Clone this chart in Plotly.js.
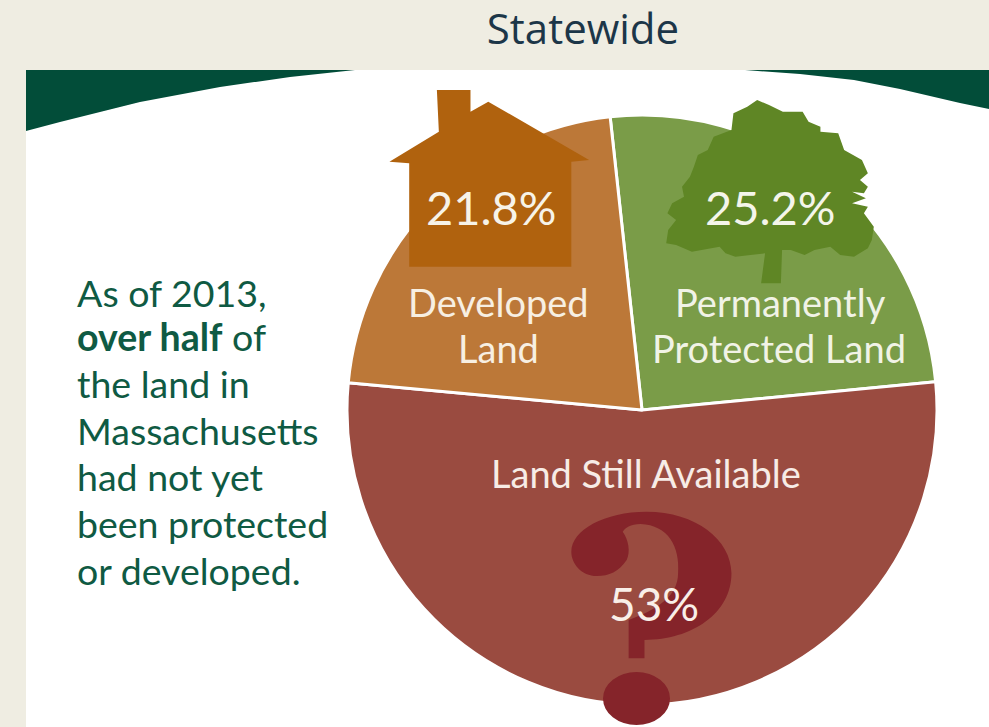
<!DOCTYPE html>
<html>
<head>
<meta charset="utf-8">
<script src="https://cdn.plot.ly/plotly-3.0.1.min.js"></script>
<style>html,body{margin:0;padding:0;background:#efede2;overflow:hidden}</style>
</head>
<body>
<div id="chart" style="width:989px;height:727px"></div>
<script>
const categories = ["Permanently<br>Protected Land", "Land Still Available", "Developed<br>Land"];
const values = [25.2, 53, 21.8];
const sliceColors = ["#7a9c48", "#9a4b40", "#bc7838"];
const noteLines = ["As of 2013,", "<b>over half</b> of", "the land in", "Massachusetts", "had not yet", "been protected", "or developed."];

const W = 989, H = 727;
const px = x => x / W;
const py = y => 1 - y / H;
const pt = p => px(p[0]).toFixed(5) + "," + py(p[1]).toFixed(5);
const poly = pts => "M" + pts.map(pt).join("L") + "Z";
const zoomed = pts => pts.map(p => [340 + p[0] / 2.529, 70 + p[1] / 3]);
const zoomedLow = p => [340 + p[0] / 2.529, 440 + p[1] / 3];
const zl = p => pt(zoomedLow(p));

const housePts = zoomed([[245,60],[330,60],[330,125],[375,95],[630,270],[585,275],[585,590],[175,590],[175,280],[125,275],[250,185]]);
const treePts = zoomed([[1065,640],[1075,550],[1000,560],[975,550],[960,530],[890,545],[850,525],[825,520],[830,480],[850,450],[828,430],[840,400],[870,380],[865,350],[885,320],[895,290],[905,255],[930,240],[945,200],[990,180],[995,130],[1030,110],[1055,90],[1085,105],[1120,125],[1170,125],[1185,155],[1215,170],[1215,185],[1260,190],[1275,240],[1320,270],[1335,310],[1315,330],[1335,350],[1325,370],[1295,365],[1330,385],[1295,400],[1335,410],[1325,430],[1350,470],[1345,510],[1335,535],[1300,560],[1265,555],[1240,530],[1200,540],[1175,555],[1140,540],[1118,540],[1115,640]]);

const curve = (a, b, c) => "C" + zl(a) + " " + zl(b) + " " + zl(c);
const questionPath = "M" + zl([730,540]) +
  curve([800,510],[855,470],[855,400]) +
  curve([860,320],[830,255],[760,252]) +
  curve([735,252],[720,265],[715,275]) +
  curve([730,300],[735,335],[725,360]) +
  curve([705,395],[680,408],[650,408]) +
  curve([610,408],[585,370],[585,335]) +
  curve([585,270],[670,215],[775,215]) +
  curve([900,215],[990,300],[990,400]) +
  curve([990,520],[890,600],[770,600]) +
  "L" + zl([770,655]) + "L" + zl([730,655]) + "Z";

const shapeBase = {xref:"paper", yref:"paper", line:{width:0}};
const shapes = [
  Object.assign({}, shapeBase, {type:"rect", layer:"below", x0:px(26), x1:1, y0:0, y1:py(70), fillcolor:"#ffffff"}),
  Object.assign({}, shapeBase, {type:"path", layer:"below", path:poly([[26,70],[355,70],[290,77],[220,87],[140,102],[100,112],[60,122],[26,131]]), fillcolor:"#024d39"}),
  Object.assign({}, shapeBase, {type:"path", layer:"below", path:poly([[745,70],[989,70],[989,109],[960,103],[900,89],[854,80],[800,74]]), fillcolor:"#024d39"}),
  Object.assign({}, shapeBase, {type:"path", layer:"above", path:poly(housePts), fillcolor:"#b0620e"}),
  Object.assign({}, shapeBase, {type:"path", layer:"above", path:poly(treePts), fillcolor:"#5f8625"}),
  Object.assign({}, shapeBase, {type:"path", layer:"above", path:questionPath, fillcolor:"#85242a"}),
  Object.assign({}, shapeBase, {type:"circle", layer:"above", x0:px(603), x1:px(670), y0:py(725), y1:py(672), fillcolor:"#85242a"})
];

const label = (text, x, y, size, color, extra) => Object.assign({
  text, x:px(x), y:py(y), xref:"paper", yref:"paper", showarrow:false,
  xanchor:"center", yanchor:"middle", align:"center",
  font:{family:"Lato, sans-serif", size, color}
}, extra || {});

const annotations = [
  label(values[2] + "%", 491, 207, 47, "#f7f3e8"),
  label(values[0] + "%", 770, 207, 47, "#f4f5ea"),
  label(values[1] + "%", 654, 603, 46, "#f9efe8"),
  label(categories[2].split("<br>")[0], 499, 302, 38, "#f7efe2"),
  label(categories[2].split("<br>")[1], 498, 348, 38, "#f7efe2"),
  label(categories[0].split("<br>")[0], 780, 302, 38, "#f1f3e6"),
  label(categories[0].split("<br>")[1], 779, 348, 38, "#f1f3e6"),
  label(categories[1], 646, 473, 38, "#f7ece6")
];
const lineY = [292, 337, 384, 430, 476, 523, 570];
noteLines.forEach((t, i) => annotations.push(label(t, 75, lineY[i], 37.5, "#0f5a43", {xanchor:"left", align:"left"})));

Plotly.newPlot("chart", [{
  type:"pie",
  labels: categories.map(c => c.replace("<br>", " ")),
  values,
  sort:false,
  direction:"clockwise",
  rotation:-6.2,
  textinfo:"none",
  hoverinfo:"label+percent",
  marker:{colors:sliceColors, line:{color:"#ffffff", width:3}},
  domain:{x:[px(347), px(937)], y:[py(705), py(115)]}
}], {
  width:W, height:H,
  margin:{l:0, r:0, t:0, b:0},
  paper_bgcolor:"#efede2",
  showlegend:false,
  title:{text:"Statewide", x:px(583), y:py(29), xanchor:"center", yanchor:"middle", xref:"paper", yref:"paper",
         font:{family:"'Open Sans', sans-serif", size:42, color:"#1c3648"}},
  shapes, annotations
}, {displayModeBar:false});
</script>
</body>
</html>
